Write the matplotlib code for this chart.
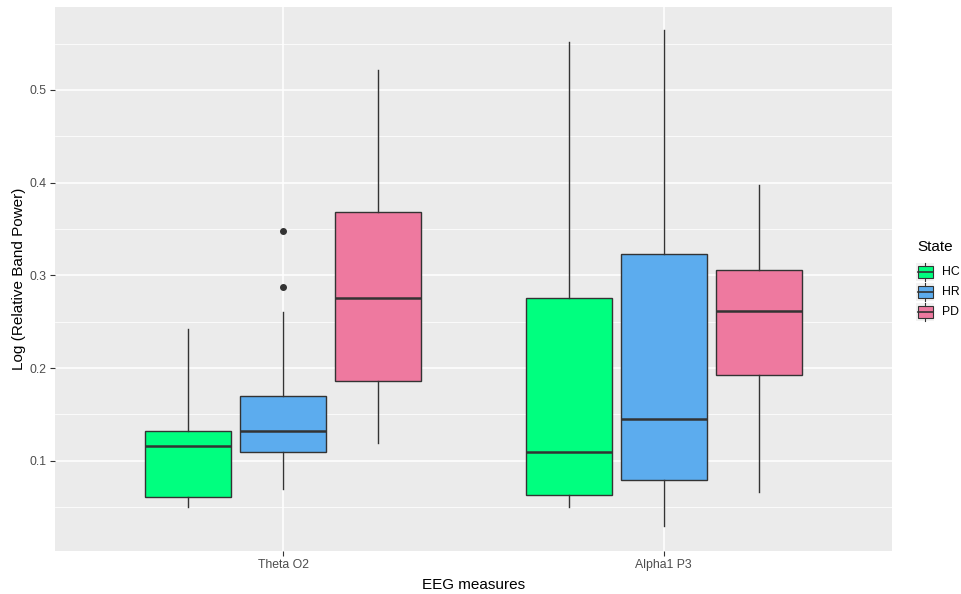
import matplotlib.pyplot as plt
from matplotlib.patches import Rectangle
from matplotlib.lines import Line2D

plt.rcParams['font.family'] = ['Liberation Sans', 'DejaVu Sans']

measures = ["Theta O2", "Alpha1 P3"]
states = ["HC", "HR", "PD"]
colors = {"HC": "#00FF7F", "HR": "#5CACEE", "PD": "#EE799F"}

# five-number summaries per measure, one list per state
whislo = {"HC": [0.050, 0.050], "HR": [0.069, 0.030], "PD": [0.119, 0.066]}
q1 = {"HC": [0.061, 0.063], "HR": [0.109, 0.079], "PD": [0.186, 0.192]}
med = {"HC": [0.116, 0.109], "HR": [0.132, 0.145], "PD": [0.276, 0.262]}
q3 = {"HC": [0.132, 0.276], "HR": [0.170, 0.323], "PD": [0.368, 0.306]}
whishi = {"HC": [0.242, 0.552], "HR": [0.260, 0.565], "PD": [0.522, 0.397]}
fliers = {"HC": [[], []], "HR": [[0.348, 0.287], []], "PD": [[], []]}

fig = plt.figure(figsize=(9.62, 5.94), dpi=100)
ax = fig.add_axes([55 / 962, 43 / 594, 837 / 962, 544 / 594])
ax.set_facecolor("#EBEBEB")

offsets = [-0.25, 0.0, 0.25]
for s, off in zip(states, offsets):
    stats = []
    for i in range(len(measures)):
        stats.append(dict(whislo=whislo[s][i], q1=q1[s][i], med=med[s][i],
                          q3=q3[s][i], whishi=whishi[s][i], fliers=fliers[s][i]))
    pos = [i + 1 + off for i in range(len(measures))]
    ax.bxp(stats, positions=pos, widths=0.226, patch_artist=True, showcaps=False,
           boxprops=dict(facecolor=colors[s], edgecolor="#333333", linewidth=1.0),
           whiskerprops=dict(color="#333333", linewidth=1.0),
           medianprops=dict(color="#333333", linewidth=1.8),
           flierprops=dict(marker="o", markerfacecolor="#333333",
                           markeredgecolor="#333333", markersize=4),
           zorder=3, manage_ticks=False)

ax.set_xlim(0.4, 2.6)
ax.set_ylim(0.0026, 0.5895)
ax.set_xticks([1, 2])
ax.set_xticklabels(measures)
ax.set_yticks([0.1, 0.2, 0.3, 0.4, 0.5])
ax.set_yticks([0.05, 0.15, 0.25, 0.35, 0.45, 0.55], minor=True)
ax.grid(True, which="major", color="white", linewidth=1.1, zorder=0)
ax.grid(True, which="minor", axis="y", color="white", linewidth=0.55, zorder=0)
ax.set_axisbelow(True)
for sp in ax.spines.values():
    sp.set_visible(False)
ax.tick_params(axis="both", which="major", length=3.5, width=0.8, color="#333333",
               labelcolor="#4D4D4D", labelsize=8.8, pad=2.5)
ax.tick_params(axis="both", which="minor", length=0)
ax.set_xlabel("EEG measures", fontsize=11, color="black", labelpad=5)
ax.set_ylabel("Log (Relative Band Power)", fontsize=11, color="black", labelpad=3)

# legend drawn by hand in figure pixels
fig.text(917 / 962, 1 - 247 / 594, "State", fontsize=11, va="center", ha="left")
for j, s in enumerate(states):
    yc = 272 + j * 20
    x0, w, h = 916.5, 18, 18
    fig.patches.append(Rectangle((x0 / 962, 1 - (yc + h / 2) / 594), w / 962, h / 594,
                                 transform=fig.transFigure, facecolor="#F2F2F2",
                                 edgecolor="none"))
    fig.patches.append(Rectangle(((x0 + 1.5) / 962, 1 - (yc + 6) / 594), 15 / 962,
                                 12 / 594, transform=fig.transFigure,
                                 facecolor=colors[s], edgecolor="#333333", linewidth=0.8))
    fig.lines.append(Line2D([(x0 + 1.5) / 962, (x0 + 16.5) / 962],
                            [1 - yc / 594, 1 - yc / 594], transform=fig.transFigure,
                            color="#333333", linewidth=1.2))
    for a, b in [(yc - 9, yc - 6), (yc + 6, yc + 9)]:
        fig.lines.append(Line2D([(x0 + 9) / 962] * 2, [1 - a / 594, 1 - b / 594],
                                transform=fig.transFigure, color="#333333",
                                linewidth=0.8))
    fig.text(942 / 962, 1 - yc / 594, s, fontsize=8.8, va="center", ha="left",
             color="black")

fig.savefig("out.png", dpi=100)
